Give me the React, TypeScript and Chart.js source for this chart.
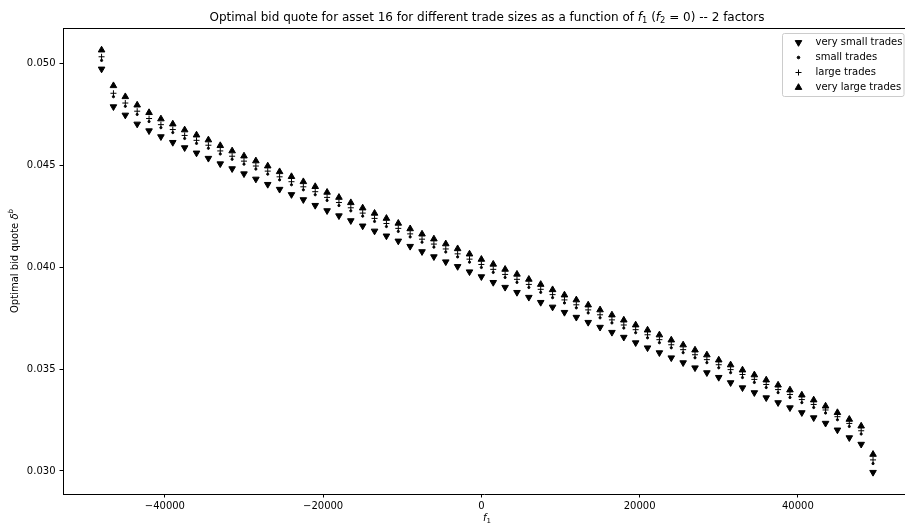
import React, { useEffect, useRef } from 'react';
import { Chart, registerables } from 'chart.js';

Chart.register(...registerables);

const FONT = '"DejaVu Sans", "Liberation Sans", sans-serif';

const xValues = [
  -48000, -46500, -45000, -43500, -42000, -40500, -39000, -37500, -36000, -34500,
  -33000, -31500, -30000, -28500, -27000, -25500, -24000, -22500, -21000, -19500,
  -18000, -16500, -15000, -13500, -12000, -10500, -9000, -7500, -6000, -4500,
  -3000, -1500, 0, 1500, 3000, 4500, 6000, 7500, 9000, 10500,
  12000, 13500, 15000, 16500, 18000, 19500, 21000, 22500, 24000, 25500,
  27000, 28500, 30000, 31500, 33000, 34500, 36000, 37500, 39000, 40500,
  42000, 43500, 45000, 46500, 48000, 49500,
];

const verySmallTrades = [
  0.04972, 0.04787, 0.04746, 0.04702, 0.04669, 0.04640, 0.04612, 0.04586, 0.04560, 0.04534,
  0.04507, 0.04483, 0.04458, 0.04432, 0.04406, 0.04382, 0.04356, 0.04331, 0.04303, 0.04277,
  0.04252, 0.04228, 0.04202, 0.04177, 0.04153, 0.04128, 0.04102, 0.04076, 0.04051, 0.04026,
  0.04003, 0.03977, 0.03953, 0.03925, 0.03901, 0.03876, 0.03852, 0.03827, 0.03804, 0.03778,
  0.03754, 0.03729, 0.03705, 0.03680, 0.03656, 0.03629, 0.03604, 0.03580, 0.03555, 0.03531,
  0.03506, 0.03482, 0.03459, 0.03433, 0.03408, 0.03384, 0.03359, 0.03335, 0.03310, 0.03286,
  0.03261, 0.03234, 0.03201, 0.03163, 0.03131, 0.02993,
];

const smallTrades = [
  0.05014, 0.04836, 0.04789, 0.04749, 0.04714, 0.04684, 0.04660, 0.04631, 0.04607, 0.04583,
  0.04555, 0.04529, 0.04505, 0.04481, 0.04456, 0.04428, 0.04404, 0.04379, 0.04355, 0.04327,
  0.04302, 0.04276, 0.04250, 0.04224, 0.04199, 0.04175, 0.04148, 0.04122, 0.04098, 0.04074,
  0.04050, 0.04024, 0.03998, 0.03974, 0.03949, 0.03925, 0.03900, 0.03876, 0.03850, 0.03824,
  0.03800, 0.03775, 0.03751, 0.03726, 0.03701, 0.03678, 0.03653, 0.03629, 0.03604, 0.03580,
  0.03555, 0.03531, 0.03506, 0.03482, 0.03458, 0.03434, 0.03409, 0.03384, 0.03360, 0.03335,
  0.03311, 0.03284, 0.03251, 0.03218, 0.03181, 0.03036,
];

const largeTrades = [
  0.05032, 0.04853, 0.04805, 0.04765, 0.04729, 0.04699, 0.04675, 0.04646, 0.04622, 0.04598,
  0.04570, 0.04544, 0.04520, 0.04496, 0.04471, 0.04443, 0.04419, 0.04394, 0.04370, 0.04342,
  0.04317, 0.04291, 0.04265, 0.04239, 0.04214, 0.04190, 0.04163, 0.04137, 0.04113, 0.04089,
  0.04065, 0.04039, 0.04013, 0.03989, 0.03964, 0.03940, 0.03915, 0.03891, 0.03865, 0.03839,
  0.03815, 0.03790, 0.03766, 0.03741, 0.03716, 0.03693, 0.03668, 0.03644, 0.03619, 0.03595,
  0.03570, 0.03546, 0.03521, 0.03497, 0.03473, 0.03449, 0.03424, 0.03399, 0.03375, 0.03350,
  0.03326, 0.03299, 0.03266, 0.03233, 0.03197, 0.03054,
];

const veryLargeTrades = [
  0.05065, 0.04890, 0.04836, 0.04795, 0.04758, 0.04727, 0.04702, 0.04673, 0.04648, 0.04624,
  0.04596, 0.04570, 0.04545, 0.04521, 0.04496, 0.04468, 0.04444, 0.04419, 0.04395, 0.04367,
  0.04342, 0.04316, 0.04290, 0.04264, 0.04239, 0.04215, 0.04188, 0.04162, 0.04138, 0.04114,
  0.04090, 0.04064, 0.04038, 0.04014, 0.03989, 0.03965, 0.03940, 0.03915, 0.03889, 0.03863,
  0.03839, 0.03814, 0.03790, 0.03765, 0.03740, 0.03716, 0.03691, 0.03667, 0.03642, 0.03618,
  0.03593, 0.03569, 0.03544, 0.03520, 0.03495, 0.03471, 0.03446, 0.03421, 0.03397, 0.03372,
  0.03348, 0.03318, 0.03286, 0.03253, 0.03220, 0.03081,
];

const seriesLabels = ['very small trades', 'small trades', 'large trades', 'very large trades'];
const xTickValues = [-40000, -20000, 0, 20000, 40000];
const yTickValues = [0.03, 0.035, 0.04, 0.045, 0.05];

type MarkerKind = 'down' | 'dot' | 'plus' | 'up';
const markerKinds: MarkerKind[] = ['down', 'dot', 'plus', 'up'];

type Seg = { t: string; it?: boolean; sub?: boolean; sup?: boolean };

function segFont(s: Seg, size: number) {
  const sz = s.sub || s.sup ? size * 0.7 : size;
  return `${s.it ? 'italic ' : ''}${sz}px ${FONT}`;
}

function drawSegs(ctx: CanvasRenderingContext2D, segs: Seg[], cx: number, baseY: number, size: number) {
  const widths = segs.map((s) => {
    ctx.font = segFont(s, size);
    return ctx.measureText(s.t).width;
  });
  const total = widths.reduce((a, b) => a + b, 0);
  let x = cx - total / 2;
  ctx.textAlign = 'left';
  ctx.textBaseline = 'alphabetic';
  segs.forEach((s, i) => {
    ctx.font = segFont(s, size);
    const dy = s.sub ? size * 0.2 : s.sup ? -size * 0.42 : 0;
    ctx.fillText(s.t, x, baseY + dy);
    x += widths[i];
  });
}

function drawMarker(ctx: CanvasRenderingContext2D, kind: MarkerKind, x: number, y: number) {
  ctx.save();
  ctx.fillStyle = '#000';
  ctx.strokeStyle = '#000';
  ctx.lineWidth = 1;
  const r = 3.8;
  if (kind === 'up' || kind === 'down') {
    const s = kind === 'up' ? 1 : -1;
    ctx.beginPath();
    ctx.moveTo(x, y - s * r);
    ctx.lineTo(x + r * 0.866, y + s * r * 0.5);
    ctx.lineTo(x - r * 0.866, y + s * r * 0.5);
    ctx.closePath();
    ctx.fill();
    ctx.stroke();
  } else if (kind === 'dot') {
    ctx.beginPath();
    ctx.arc(x, y, 1.3, 0, Math.PI * 2);
    ctx.fill();
    ctx.stroke();
  } else {
    ctx.beginPath();
    ctx.moveTo(x - 3, y);
    ctx.lineTo(x + 3, y);
    ctx.moveTo(x, y - 3);
    ctx.lineTo(x, y + 3);
    ctx.stroke();
  }
  ctx.restore();
}

const textPlugin = {
  id: 'mplText',
  afterDraw(chart: any) {
    const ctx: CanvasRenderingContext2D = chart.ctx;
    const area = chart.chartArea;
    ctx.save();
    ctx.fillStyle = '#000';

    // top spine
    ctx.strokeStyle = '#000';
    ctx.lineWidth = 1;
    ctx.beginPath();
    ctx.moveTo(area.left, Math.round(area.top) + 0.5);
    ctx.lineTo(area.right, Math.round(area.top) + 0.5);
    ctx.stroke();

    // title
    drawSegs(
      ctx,
      [
        { t: 'Optimal bid quote for asset 16 for different trade sizes as a function of ' },
        { t: 'f', it: true },
        { t: '1', sub: true },
        { t: ' (' },
        { t: 'f', it: true },
        { t: '2', sub: true },
        { t: ' = 0) -- 2 factors' },
      ],
      487,
      21,
      12
    );

    // x label
    drawSegs(ctx, [{ t: 'f', it: true }, { t: '1', sub: true }], 487, 521, 10);

    // y label
    ctx.save();
    ctx.translate(14, (area.top + area.bottom) / 2);
    ctx.rotate(-Math.PI / 2);
    drawSegs(
      ctx,
      [{ t: 'Optimal bid quote ' }, { t: 'δ', it: true }, { t: 'b', it: true, sup: true }],
      0,
      3.5,
      10
    );
    ctx.restore();

    // legend
    const lx = 782.5;
    const ly = 33.5;
    const lw = 121.5;
    const lh = 63;
    ctx.beginPath();
    const rr = 2;
    ctx.moveTo(lx + rr, ly);
    ctx.lineTo(lx + lw - rr, ly);
    ctx.quadraticCurveTo(lx + lw, ly, lx + lw, ly + rr);
    ctx.lineTo(lx + lw, ly + lh - rr);
    ctx.quadraticCurveTo(lx + lw, ly + lh, lx + lw - rr, ly + lh);
    ctx.lineTo(lx + rr, ly + lh);
    ctx.quadraticCurveTo(lx, ly + lh, lx, ly + lh - rr);
    ctx.lineTo(lx, ly + rr);
    ctx.quadraticCurveTo(lx, ly, lx + rr, ly);
    ctx.closePath();
    ctx.fillStyle = 'rgba(255,255,255,0.8)';
    ctx.fill();
    ctx.strokeStyle = '#cccccc';
    ctx.stroke();

    ctx.fillStyle = '#000';
    ctx.font = `10px ${FONT}`;
    ctx.textAlign = 'left';
    ctx.textBaseline = 'middle';
    seriesLabels.forEach((lab, i) => {
      const y = 42.5 + i * 15;
      drawMarker(ctx, markerKinds[i], 798.5, y);
      ctx.fillStyle = '#000';
      ctx.font = `10px ${FONT}`;
      ctx.fillText(lab, 815.5, y);
    });

    ctx.restore();
  },
};

export default function App() {
  const ref = useRef<HTMLCanvasElement | null>(null);

  useEffect(() => {
    const canvas = ref.current;
    if (!canvas) return;
    const mk = (vals: number[]) => xValues.map((x, i) => ({ x, y: vals[i] }));
    const chart = new Chart(canvas, {
      type: 'scatter',
      data: {
        datasets: [
          {
            label: seriesLabels[0],
            data: mk(verySmallTrades),
            pointStyle: 'triangle',
            rotation: 180,
            pointRadius: 3.8,
            backgroundColor: '#000',
            borderColor: '#000',
            borderWidth: 1,
            order: 4,
          },
          {
            label: seriesLabels[1],
            data: mk(smallTrades),
            pointStyle: 'circle',
            pointRadius: 1.1,
            backgroundColor: '#000',
            borderColor: '#000',
            borderWidth: 1,
            order: 3,
          },
          {
            label: seriesLabels[2],
            data: mk(largeTrades),
            pointStyle: 'cross',
            pointRadius: 3,
            backgroundColor: '#000',
            borderColor: '#000',
            borderWidth: 1,
            order: 2,
          },
          {
            label: seriesLabels[3],
            data: mk(veryLargeTrades),
            pointStyle: 'triangle',
            pointRadius: 3.8,
            backgroundColor: '#000',
            borderColor: '#000',
            borderWidth: 1,
            order: 1,
          },
        ] as any,
      },
      options: {
        animation: false,
        responsive: false,
        devicePixelRatio: 1,
        events: [],
        layout: { padding: { top: 28, left: 0, right: 0, bottom: 0 }, autoPadding: false } as any,
        plugins: {
          legend: { display: false },
          title: { display: false },
          tooltip: { enabled: false },
        },
        scales: {
          x: {
            type: 'linear',
            min: -52875,
            max: 53539,
            afterBuildTicks: (scale: any) => {
              scale.ticks = xTickValues.map((v) => ({ value: v }));
            },
            afterFit: (scale: any) => {
              scale.height = 31;
            },
            grid: {
              drawOnChartArea: false,
              drawTicks: true,
              tickLength: 3.5,
              tickColor: '#000',
              tickWidth: 1,
            },
            border: { display: true, color: '#000', width: 1 },
            ticks: {
              color: '#000',
              font: { family: FONT, size: 10 },
              padding: 3,
              maxRotation: 0,
              autoSkip: false,
              callback: (v: any) => {
                const n = Number(v);
                return n < 0 ? '\u2212' + String(Math.abs(n)) : String(n);
              },
            },
          },
          y: {
            type: 'linear',
            min: 0.028867,
            max: 0.051732,
            afterBuildTicks: (scale: any) => {
              scale.ticks = yTickValues.map((v) => ({ value: v }));
            },
            afterFit: (scale: any) => {
              scale.width = 63;
            },
            grid: {
              drawOnChartArea: false,
              drawTicks: true,
              tickLength: 3.5,
              tickColor: '#000',
              tickWidth: 1,
            },
            border: { display: true, color: '#000', width: 1 },
            ticks: {
              color: '#000',
              font: { family: FONT, size: 10 },
              padding: 4,
              autoSkip: false,
              callback: (v: any) => Number(v).toFixed(3),
            },
          },
        },
      } as any,
      plugins: [textPlugin],
    });
    return () => chart.destroy();
  }, []);

  return (
    <div style={{ position: 'fixed', left: 0, top: 0, width: 905, height: 525, background: '#fff' }}>
      <canvas ref={ref} width={905} height={525} style={{ display: 'block', width: 905, height: 525 }} />
    </div>
  );
}
